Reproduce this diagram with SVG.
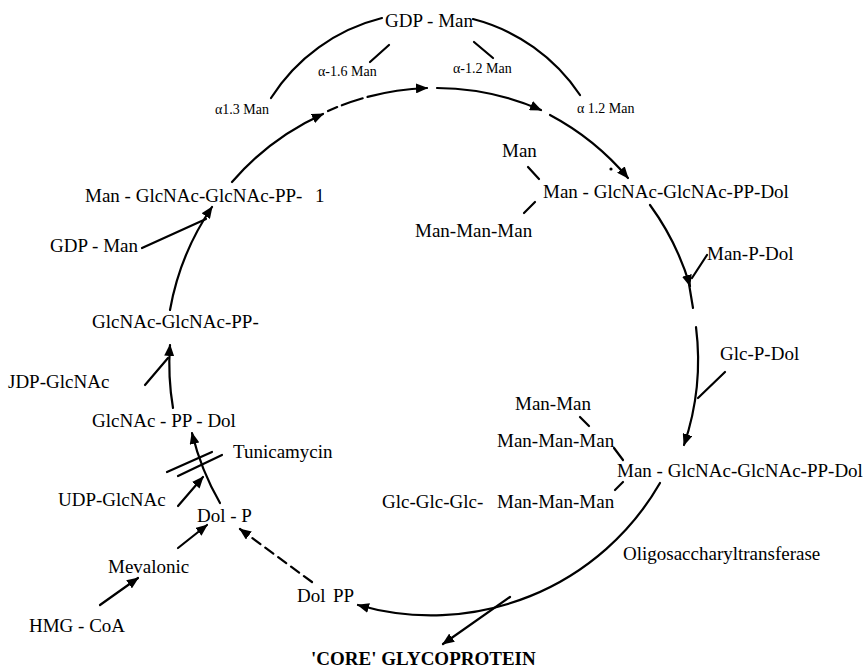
<svg xmlns="http://www.w3.org/2000/svg" width="865" height="670" viewBox="0 0 865 670">
<defs>
<marker id="ah" markerWidth="12" markerHeight="10" refX="11" refY="5" orient="auto" markerUnits="userSpaceOnUse">
<path d="M0,0 L12,5 L0,10 z" fill="#000"/>
</marker>
<style>
text{font-family:"Liberation Serif","Times New Roman",serif;font-size:19px;fill:#000}
.sm{font-size:14px}
.b{font-weight:bold}
.ln{fill:none;stroke:#000;stroke-width:2.2;stroke-linecap:round}
.ar{marker-end:url(#ah)}
.dash{stroke-dasharray:10 6}
</style>
</defs>
<rect width="865" height="670" fill="#fff"/>

<g id="connectors">
<path class="ln" d="M271,98 A184,184 0 0 1 382,18"/>
<path class="ln" d="M473,19 A184,184 0 0 1 580,95"/>
<path class="ln" d="M370,62 L389,45"/>
<path class="ln" d="M474,42 L493,58"/>
<path class="ln ar" d="M220,503 A264,264 0 0 1 192,433"/>
<path class="ln ar" d="M173,408 A264,264 0 0 1 170,345"/>
<path class="ln" d="M145,385 L168,358"/>
<path class="ln ar" d="M170,310 A264,264 0 0 1 212,207"/>
<path class="ln" d="M142,248 L206,219"/>
<path class="ln ar" d="M232,182 A264,264 0 0 1 323,114"/>
<path class="ln ar" d="M328,111 A264,264 0 0 1 427,88" stroke-dasharray="10 5 22 5 300"/>
<path class="ln ar" d="M437,88 A264,264 0 0 1 541,110"/>
<path class="ln ar" d="M550,115 A264,264 0 0 1 628,178"/>
<circle cx="611" cy="169" r="1.6" fill="#000"/>
<path class="ln ar" d="M650,205 A264,264 0 0 1 690,286"/>
<path class="ln" d="M689,284 L693,308"/>
<path class="ln" d="M707,255 L692,278"/>
<path class="ln ar" d="M696,327 A264,264 0 0 1 684,445"/>
<path class="ln" d="M725,372 L698,398"/>
<path class="ln ar" d="M660,483 A264,264 0 0 1 358,605"/>
<path class="ln ar" d="M510,597 L443,644"/>
<path class="ln ar dash" d="M312,582 L240,529"/>
<path class="ln ar" d="M178,506 L203,477"/>
<path class="ln ar" d="M178,548 L207,525"/>
<path class="ln ar" d="M100,605 L138,578"/>
<path class="ln" d="M167,472 L212,452"/>
<path class="ln" d="M178,476 L222,455"/>
<path class="ln" d="M528,167 L539,179"/>
<path class="ln" d="M524,213 L535,202"/>
<path class="ln" d="M580,417 L589,426"/>
<path class="ln" d="M614,448 L623,460"/>
<path class="ln" d="M615,490 L623,482"/>
</g>

<g id="gdp-man-top"><text x="385" y="27">GDP - Man</text></g>
<g id="a16"><text class="sm" x="318" y="76">α-1.6 Man</text></g>
<g id="a12"><text class="sm" x="453" y="73">α-1.2 Man</text></g>
<g id="a13"><text class="sm" x="215" y="114">α1.3 Man</text></g>
<g id="a12b"><text class="sm" x="577" y="113">α 1.2 Man</text></g>
<g id="man5"><text x="502" y="157">Man</text><text x="543" y="198">Man - GlcNAc-GlcNAc-PP-Dol</text><text x="415" y="237">Man-Man-Man</text></g>
<g id="man-p-dol"><text x="707" y="260">Man-P-Dol</text></g>
<g id="man1"><text x="85" y="202">Man - GlcNAc-GlcNAc-PP-</text><text x="315" y="202">1</text></g>
<g id="gdp-man-left"><text x="50" y="252">GDP - Man</text></g>
<g id="glcnac2"><text x="92" y="328">GlcNAc-GlcNAc-PP-</text></g>
<g id="glc-p-dol"><text x="720" y="360">Glc-P-Dol</text></g>
<g id="udp1"><text x="8" y="388">JDP-GlcNAc</text></g>
<g id="glcnac1"><text x="92" y="427">GlcNAc - PP - Dol</text></g>
<g id="tunicamycin"><text x="233" y="458">Tunicamycin</text></g>
<g id="full"><text x="515" y="410">Man-Man</text><text x="497" y="447">Man-Man-Man</text><text x="617" y="477">Man - GlcNAc-GlcNAc-PP-Dol</text><text x="382" y="508">Glc-Glc-Glc-</text><text x="497" y="508">Man-Man-Man</text></g>
<g id="udp2"><text x="58" y="506">UDP-GlcNAc</text></g>
<g id="dol-p"><text x="197" y="522">Dol - P</text></g>
<g id="ost"><text x="623" y="560">Oligosaccharyltransferase</text></g>
<g id="mevalonic"><text x="108" y="573">Mevalonic</text></g>
<g id="dol-pp"><text x="297" y="602">Dol<tspan x="333">PP</tspan></text></g>
<g id="hmg"><text x="29" y="632">HMG - CoA</text></g>
<g id="core"><text class="b" x="311" y="665">'CORE' GLYCOPROTEIN</text></g>
</svg>
